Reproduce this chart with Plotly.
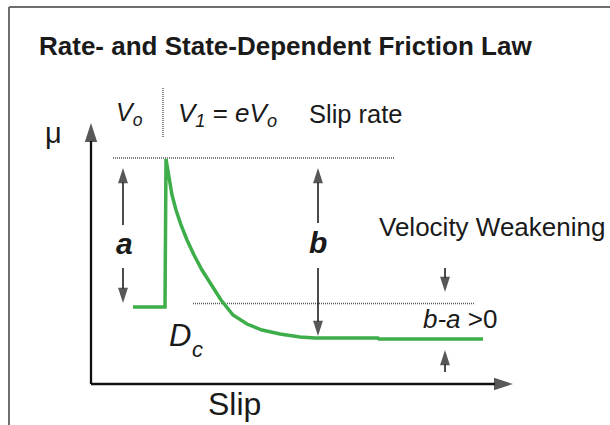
import plotly.graph_objects as go

# Friction curve (slip and friction coefficient mu, arbitrary units)
slip = [0.42, 0.74, 0.75, 0.78, 0.81, 0.85, 0.90, 0.96, 1.03, 1.11, 1.20, 1.30, 1.42, 1.56, 1.71,
        1.89, 2.09, 2.24, 2.87, 2.88, 3.92]
mu = [0.77, 0.77, 2.25, 2.04, 1.89, 1.74, 1.59, 1.44, 1.29, 1.14, 0.99, 0.84, 0.69, 0.60, 0.54,
      0.50, 0.47, 0.46, 0.46, 0.45, 0.45]

# Reference levels (dotted guide lines)
peak_level_slip = [0.22, 3.04]
peak_level_mu = [2.26, 2.26]
vw_level_slip = [1.02, 3.84]
vw_level_mu = [0.805, 0.805]
vel_step_slip = [0.72, 0.72]
vel_step_mu = [2.47, 2.97]

FONT = "Liberation Sans, Arial, Helvetica, sans-serif"
TXT = "#1a1a1a"
GREEN = "#3DAE4A"
DOT = "#555555"
INK = "#111111"

fig = go.Figure()

for xs, ys in [(peak_level_slip, peak_level_mu), (vw_level_slip, vw_level_mu), (vel_step_slip, vel_step_mu)]:
    fig.add_trace(go.Scatter(x=xs, y=ys, mode="lines",
                             line=dict(color=DOT, width=1.4, dash="1px,1px"),
                             hoverinfo="skip", showlegend=False))

fig.add_trace(go.Scatter(x=slip, y=mu, mode="lines",
                         line=dict(color=GREEN, width=3.5),
                         hoverinfo="skip", showlegend=False))


def arrow(xs, ys, width=1.5, head=16):
    fig.add_trace(go.Scatter(
        x=xs, y=ys, mode="lines+markers",
        line=dict(color=INK, width=width),
        marker=dict(symbol=["circle", "arrow"], size=[0, head], color=INK,
                    angleref="previous", line=dict(width=0)),
        hoverinfo="skip", showlegend=False))


# axes
arrow([0.0, 0.0], [0.0, 2.61], width=2.3, head=20)
arrow([0.0, 4.22], [0.0, 0.0], width=2.3, head=20)
# a arrows
arrow([0.32, 0.32], [1.59, 2.16])
arrow([0.32, 0.32], [1.16, 0.81])
# b arrows
arrow([2.27, 2.27], [1.61, 2.16])
arrow([2.27, 2.27], [1.16, 0.48])
# b-a arrows
arrow([3.54, 3.54], [1.16, 0.92])
arrow([3.54, 3.54], [0.12, 0.34])

annotations = []


def text(x, y, s, size, xanchor="left", bold=False):
    annotations.append(dict(x=x, y=y, xref="x", yref="y", text=s, showarrow=False,
                            xanchor=xanchor, yanchor="middle",
                            font=dict(family=FONT, size=size, color=TXT,
                                      weight="bold" if bold else "normal")))


text(-0.54, 3.385, "Rate- and State-Dependent Friction Law", 26, bold=True)
text(-0.48, 2.51, "μ", 29)
text(0.23, 2.70, "<i>V<sub>o</sub></i>", 25)
text(0.85, 2.70, "<i>V<sub>1</sub></i> = <i>eV<sub>o</sub></i>", 26)
text(2.16, 2.705, "Slip rate", 25.5)
text(0.33, 1.404, "<b><i>a</i></b>", 30, xanchor="center")
text(2.27, 1.414, "<b><i>b</i></b>", 30, xanchor="center")
text(0.76, 0.49, "<i>D</i>", 31)
text(0.985, 0.35, "<i>c</i>", 22)
text(2.86, 1.57, "Velocity Weakening", 26)
text(3.30, 0.65, "<i>b-a</i> &gt;0", 26)
text(1.15, -0.20, "Slip", 32)

shapes = [
    dict(type="line", xref="paper", yref="paper", x0=9/610, x1=9/610, y0=0, y1=1-7/425,
         line=dict(color="#6e6e6e", width=2)),
    dict(type="line", xref="paper", yref="paper", x0=9/610, x1=1, y0=1-7/425, y1=1-7/425,
         line=dict(color="#6e6e6e", width=2)),
]

fig.update_layout(
    width=610, height=425,
    margin=dict(l=0, r=0, t=0, b=0),
    paper_bgcolor="white", plot_bgcolor="white",
    xaxis=dict(range=[-0.91, 5.19], visible=False, fixedrange=True),
    yaxis=dict(range=[-0.41, 3.84], visible=False, fixedrange=True),
    annotations=annotations,
    shapes=shapes,
    showlegend=False,
)

fig.write_html("out.html", config={"displayModeBar": False},
               post_script="document.body.style.margin='0px';document.body.style.overflow='hidden';")
